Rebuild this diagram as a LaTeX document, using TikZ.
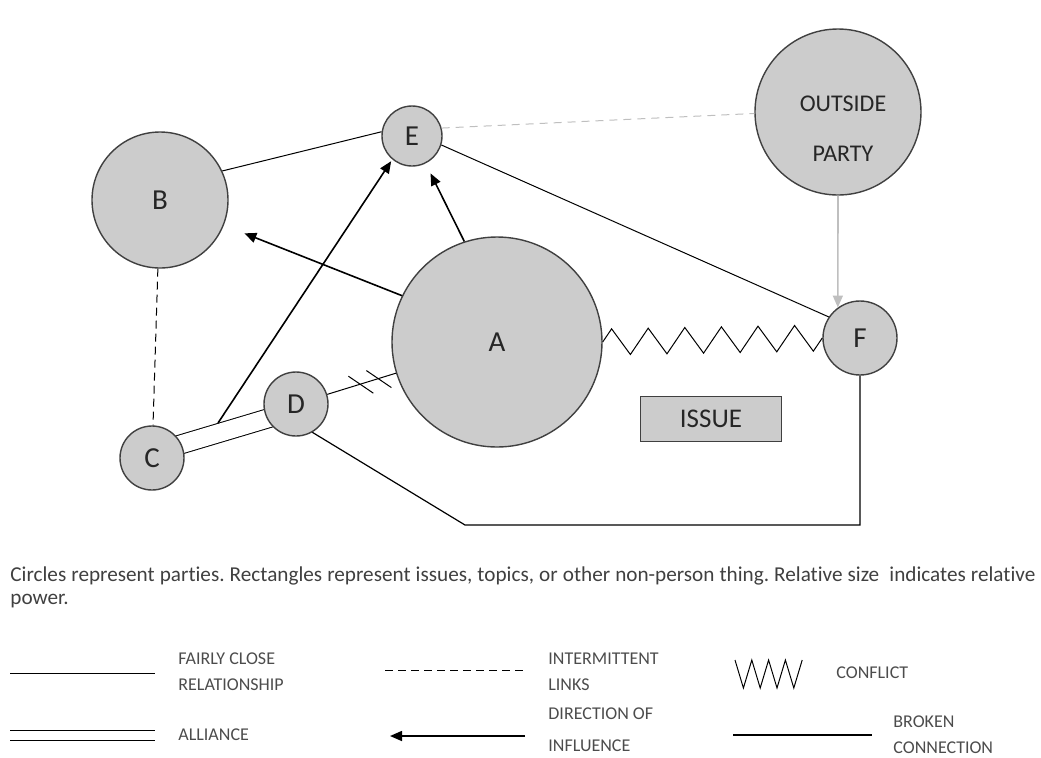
\documentclass[tikz,border=0pt]{standalone}
\usepackage{fontspec}
\setmainfont{Carlito}[Ligatures=NoCommon]
\frenchspacing
\usetikzlibrary{positioning,calc,arrows.meta,decorations.pathmorphing,backgrounds}

\tikzset{
    party/.style={circle, draw=black!75, fill=black!20, line width=0.7pt, inner sep=0pt,
        font=\fontsize{14.5}{16}\selectfont, text=black!85},
    partylabel/.style={align=center, font=\fontsize{12}{14}\selectfont, text=black!85},
    issuebox/.style={rectangle, draw=black!75, fill=black!20, line width=0.7pt,
        minimum width=70.5pt, minimum height=22.5pt, font=\fontsize{13.5}{15}\selectfont, text=black!85},
    closerel/.style={line width=0.5pt},
    intermittent/.style={line width=0.5pt, dash pattern=on 4pt off 2.5pt},
    alliance/.style={double, double distance=9pt, line width=0.5pt},
    influence/.style={line width=0.8pt, -{Triangle[length=6pt,width=5pt]}},
    outsidelink/.style={line width=0.5pt, black!25, dash pattern=on 4pt off 3pt},
    outsidearrow/.style={line width=0.8pt, black!25, -{Triangle[length=6pt,width=5pt]}},
    conflict/.style={line width=0.5pt, decorate,
        decoration={zigzag, segment length=18.3pt, amplitude=6.5pt}},
    broken/.style={line width=0.6pt},
    legendtext/.style={anchor=west, align=left, inner sep=0pt,
        font=\fontsize{9}{13}\selectfont, text=black!70},
}

\begin{document}
\begin{tikzpicture}[x=0.5pt, y=-0.5pt]
        \useasboundingbox (0,0) rectangle (1041,757);

        % Parties and issue
        \node (B) [party, minimum size=68pt] at (160,200) {B};
        \node (E) [party, minimum size=30pt] at (412,136) {E};
        \node (OUT) [party, minimum size=83pt] at (838,112) {};
        \node (outtext) [partylabel] at (843,129) {OUTSIDE\\[11pt]PARTY};
        \node (A) [party, minimum size=105pt] at (497,342) {A};
        \node (F) [party, minimum size=37pt] at (860,338) {F};
        \node (D) [party, minimum size=32pt] at (296,404) {D};
        \node (C) [party, minimum size=32pt] at (152,458) {C};
        \node (issue) [issuebox] at (711,419) {ISSUE};

        % Connections
        \begin{scope}[on background layer]
            \draw[alliance] ($(C)+(0,-5)$) -- ($(D)+(0,6)$);
        \end{scope}
        \coordinate (cAl) at (218,423);
        \coordinate (bend) at (465,525);

        \draw[closerel] (B.25) -- (E.172);
        \draw[closerel] (E.-17) -- (F.146);
        \draw[outsidelink] (E.15) -- (OUT.181);
        \draw[outsidearrow] (OUT.south) -- (F.126);
        \draw[influence, shorten >=11pt] (A.154) -- (B);
        \draw[influence, shorten >=5.5pt] (A.108) -- (E);
        \draw[influence, shorten >=1pt] (cAl) -- (E.230);
        \draw[intermittent] (B) -- (C);
        \draw[conflict] (A.east) -- (F.west);
        \draw[closerel] (D) -- (A);
        \draw[closerel] ($(D)!0.32!(A)$) ++(-12,-8) -- ++(25,17);
        \draw[closerel] ($(D)!0.41!(A)$) ++(-12,-8) -- ++(25,17);
        \draw[broken] (D.-60) -- (bend) -| (F.south);

        % Note
        \node (note) [anchor=north west, text width=512.5pt, align=justify, inner sep=0pt,
            font=\fontsize{10.6}{11.5}\selectfont, text=black!75] at (10,566)
            {Circles represent parties. Rectangles represent issues, topics, or other non-person thing. Relative size \ indicates relative power.};

        % Legend
        \node (lfair) [legendtext] at (178,672) {FAIRLY CLOSE\\RELATIONSHIP};
        \node (llinks) [legendtext] at (548,672) {INTERMITTENT\\LINKS};
        \node (lconf) [legendtext] at (836,673) {CONFLICT};
        \node (lall) [legendtext] at (178,735) {ALLIANCE};
        \node (ldir) [legendtext] at (548,730) {DIRECTION OF\\[3pt]INFLUENCE};
        \node (lbroken) [legendtext] at (893,735) {BROKEN\\CONNECTION};

        \draw[closerel] ($(lfair.west)+(-168,1)$) -- ++(145,0);
        \draw[intermittent] ($(llinks.west)+(-163,-2)$) -- ++(140,0);
        \draw[closerel] ($(lconf.west)+(-101,-13)$)
            \foreach \k in {1,...,4} { -- ++(8.4,28) -- ++(8.4,-28) };
        \draw[closerel, double, double distance=4.5pt] ($(lall.west)+(-168,0)$) -- ++(145,0);
        \draw[influence] ($(ldir.west)+(-23,6)$) -- ++(-135,0);
        \draw[broken] ($(lbroken.west)+(-160,0)$) -- ++(139,0);
\end{tikzpicture}
\end{document}
